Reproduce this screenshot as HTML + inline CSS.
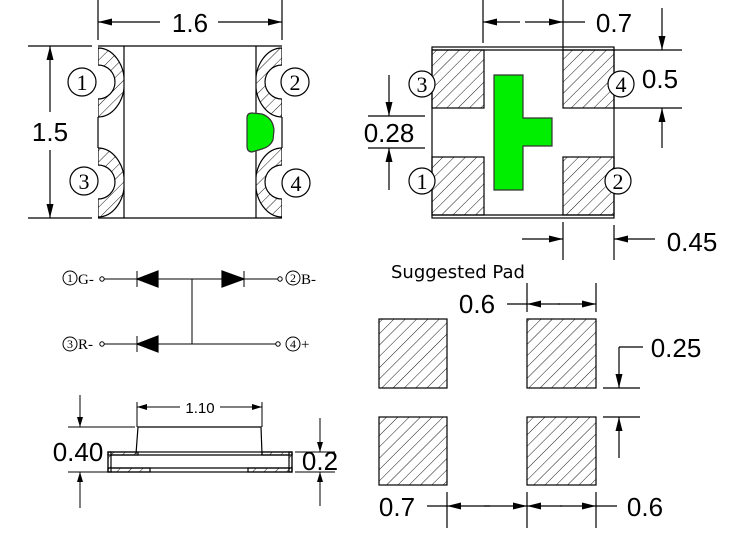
<!DOCTYPE html>
<html><head><meta charset="utf-8"><style>
html,body{margin:0;padding:0;background:#fff;}
svg{display:block;}
text{font-family:"Liberation Sans",sans-serif;fill:#000;}
</style></head><body>
<svg width="736" height="533" viewBox="0 0 736 533" xmlns="http://www.w3.org/2000/svg">
<defs>
<pattern id="h" patternUnits="userSpaceOnUse" width="8" height="8" patternTransform="rotate(45)">
<line x1="0" y1="0" x2="0" y2="8" stroke="#000" stroke-width="0.9"/>
</pattern>
<marker id="a" viewBox="0 0 10 6" refX="10" refY="3" markerWidth="10" markerHeight="6" markerUnits="userSpaceOnUse" orient="auto">
<path d="M0,0 L10,3 L0,6 Z" fill="#000"/>
</marker>
<marker id="b" viewBox="0 0 14 7" refX="14" refY="3.5" markerWidth="14" markerHeight="7" markerUnits="userSpaceOnUse" orient="auto">
<path d="M0,0 L14,3.5 L0,7 Z" fill="#000"/>
</marker>
<clipPath id="cl"><rect x="98" y="40" width="26" height="180"/></clipPath>
<clipPath id="cr"><rect x="256" y="40" width="26" height="180"/></clipPath>
</defs>
<g stroke="#000" fill="none" stroke-width="1.2">
<!-- TOP LEFT VIEW -->
<g clip-path="url(#cl)">
<path d="M98,48 A26,34 0 0 1 98,117 L98,99 A17,17 0 0 0 98,65 Z" fill="url(#h)"/>
<path d="M98,148 A26,34 0 0 1 98,217 L98,199 A17,17 0 0 0 98,165 Z" fill="url(#h)"/>
</g>
<g clip-path="url(#cr)">
<path d="M282,48 A26,34 0 0 0 282,117 L282,99 A17,17 0 0 1 282,65 Z" fill="url(#h)"/>
<path d="M282,148 A26,34 0 0 0 282,217 L282,199 A17,17 0 0 1 282,165 Z" fill="url(#h)"/>
</g>
<line x1="98" y1="46" x2="282" y2="46"/>
<line x1="98" y1="218" x2="282" y2="218"/>
<line x1="124" y1="46" x2="124" y2="218"/>
<line x1="256" y1="46" x2="256" y2="218"/>
<line x1="98" y1="117" x2="98" y2="148"/>
<line x1="282" y1="117" x2="282" y2="148"/>
<path d="M252,113 L262,114 Q273,118 274,130 L273,140 Q270,147 262,149 L252,152 Q247,152 247,146 L247,118 Q247,113 252,113 Z" fill="#00ee00" stroke="#333"/>
<line x1="98" y1="0" x2="98" y2="40"/>
<line x1="282" y1="0" x2="282" y2="40"/>
<line x1="160" y1="22" x2="98" y2="22" marker-end="url(#b)"/>
<line x1="218" y1="22" x2="282" y2="22" marker-end="url(#b)"/>
<line x1="28" y1="46" x2="92" y2="46"/>
<line x1="28" y1="218" x2="92" y2="218"/>
<line x1="50" y1="112" x2="50" y2="46" marker-end="url(#b)"/>
<line x1="50" y1="150" x2="50" y2="218" marker-end="url(#b)"/>
<circle cx="82" cy="82" r="14" fill="#fff"/>
<circle cx="84" cy="181" r="14" fill="#fff"/>
<circle cx="295" cy="82" r="14" fill="#fff"/>
<circle cx="296" cy="183" r="14" fill="#fff"/>

<!-- TOP RIGHT VIEW -->
<rect x="432" y="50" width="52" height="58" fill="url(#h)"/>
<rect x="432" y="157" width="52" height="58" fill="url(#h)"/>
<rect x="563" y="50" width="51" height="58" fill="url(#h)"/>
<rect x="563" y="157" width="51" height="58" fill="url(#h)"/>
<rect x="432" y="47" width="182" height="171"/>
<line x1="432" y1="50" x2="614" y2="50"/>
<line x1="432" y1="215" x2="614" y2="215"/>
<path d="M494,75 H523 V118 H552 V146 H523 V190 H494 Z" fill="#00ee00" stroke="#333"/>
<circle cx="422" cy="84" r="13" fill="#fff"/>
<circle cx="621" cy="84" r="13" fill="#fff"/>
<circle cx="422" cy="181" r="13" fill="#fff"/>
<circle cx="618" cy="181" r="13" fill="#fff"/>
<line x1="483" y1="0" x2="483" y2="43"/>
<line x1="563" y1="0" x2="563" y2="50"/>
<line x1="520" y1="22" x2="483" y2="22" marker-end="url(#b)"/>
<line x1="525" y1="22" x2="563" y2="22" marker-end="url(#b)"/>
<line x1="563" y1="22" x2="585" y2="22"/>
<line x1="614" y1="50" x2="682" y2="50"/>
<line x1="614" y1="108" x2="682" y2="108"/>
<line x1="662" y1="8" x2="662" y2="50" marker-end="url(#b)"/>
<line x1="662" y1="148" x2="662" y2="108" marker-end="url(#b)"/>
<line x1="368" y1="116" x2="425" y2="116"/>
<line x1="368" y1="148" x2="425" y2="148"/>
<line x1="389" y1="75" x2="389" y2="116" marker-end="url(#b)"/>
<line x1="389" y1="190" x2="389" y2="148" marker-end="url(#b)"/>
<line x1="563" y1="222" x2="563" y2="260"/>
<line x1="614" y1="225" x2="614" y2="260"/>
<line x1="522" y1="239" x2="563" y2="239" marker-end="url(#b)"/>
<line x1="655" y1="239" x2="614" y2="239" marker-end="url(#b)"/>

<!-- CIRCUIT -->
<g stroke-width="1">
<line x1="104" y1="279" x2="278" y2="279"/>
<line x1="104" y1="344" x2="278" y2="344"/>
<line x1="192" y1="279" x2="192" y2="344"/>
<circle cx="102" cy="279" r="2.2" fill="#fff"/>
<circle cx="280" cy="279" r="2.2" fill="#fff"/>
<circle cx="102" cy="344" r="2.2" fill="#fff"/>
<circle cx="278" cy="344" r="2.2" fill="#fff"/>
<line x1="137" y1="271" x2="137" y2="287"/>
<line x1="244" y1="271" x2="244" y2="287"/>
<line x1="137" y1="336" x2="137" y2="352"/>
<circle cx="70" cy="278" r="7"/>
<circle cx="70" cy="344" r="7"/>
<circle cx="293" cy="278" r="7"/>
<circle cx="293" cy="344" r="7"/>
</g>
<path d="M137,279 L158,271 L158,287 Z" fill="#000"/>
<path d="M244,279 L222,271 L222,287 Z" fill="#000"/>
<path d="M137,344 L158,336 L158,352 Z" fill="#000"/>

<!-- SIDE VIEW -->
<rect x="108" y="452" width="30" height="3" fill="url(#h)"/>
<rect x="262" y="452" width="30" height="3" fill="url(#h)"/>
<rect x="108" y="468" width="42" height="4" fill="url(#h)"/>
<rect x="248" y="468" width="44" height="4" fill="url(#h)"/>
<rect x="108" y="452" width="3" height="20" fill="url(#h)"/>
<rect x="289" y="452" width="3" height="20" fill="url(#h)"/>
<path d="M136,454 L138,427 H261 L262,454"/>
<rect x="108" y="452" width="184" height="20"/>
<line x1="111" y1="455" x2="289" y2="455"/>
<line x1="111" y1="468" x2="289" y2="468"/>
<line x1="137" y1="402" x2="137" y2="427" stroke-width="1"/>
<line x1="262" y1="402" x2="262" y2="427" stroke-width="1"/>
<line x1="180" y1="407" x2="137" y2="407" stroke-width="1" marker-end="url(#a)"/>
<line x1="220" y1="407" x2="262" y2="407" stroke-width="1" marker-end="url(#a)"/>
<line x1="68" y1="427" x2="135" y2="427" stroke-width="1"/>
<line x1="68" y1="472" x2="108" y2="472" stroke-width="1"/>
<line x1="80" y1="395" x2="80" y2="427" stroke-width="1" marker-end="url(#a)"/>
<line x1="80" y1="508" x2="80" y2="472" stroke-width="1" marker-end="url(#a)"/>
<line x1="295" y1="452" x2="335" y2="452" stroke-width="1"/>
<line x1="295" y1="472" x2="335" y2="472" stroke-width="1"/>
<line x1="320" y1="418" x2="320" y2="452" stroke-width="1" marker-end="url(#a)"/>
<line x1="320" y1="506" x2="320" y2="472" stroke-width="1" marker-end="url(#a)"/>

<!-- PADS -->
<rect x="379" y="319" width="68" height="69" fill="url(#h)"/>
<rect x="527" y="319" width="69" height="69" fill="url(#h)"/>
<rect x="379" y="417" width="68" height="68" fill="url(#h)"/>
<rect x="527" y="417" width="69" height="68" fill="url(#h)"/>
<line x1="527" y1="283" x2="527" y2="312"/>
<line x1="596" y1="283" x2="596" y2="312"/>
<line x1="507" y1="304" x2="527" y2="304"/>
<line x1="560" y1="304" x2="527" y2="304" marker-end="url(#b)"/>
<line x1="558" y1="304" x2="596" y2="304" marker-end="url(#b)"/>
<line x1="603" y1="388" x2="640" y2="388"/>
<line x1="603" y1="417" x2="640" y2="417"/>
<line x1="643" y1="347" x2="619" y2="347"/>
<line x1="619" y1="347" x2="619" y2="388" marker-end="url(#b)"/>
<line x1="619" y1="458" x2="619" y2="417" marker-end="url(#b)"/>
<line x1="447" y1="492" x2="447" y2="528"/>
<line x1="527" y1="492" x2="527" y2="528"/>
<line x1="596" y1="492" x2="596" y2="528"/>
<line x1="427" y1="506" x2="447" y2="506"/>
<line x1="490" y1="506" x2="447" y2="506" marker-end="url(#b)"/>
<line x1="484" y1="506" x2="527" y2="506" marker-end="url(#b)"/>
<line x1="562" y1="506" x2="527" y2="506" marker-end="url(#b)"/>
<line x1="560" y1="506" x2="596" y2="506" marker-end="url(#b)"/>
<line x1="596" y1="506" x2="617" y2="506"/>
</g>

<!-- TEXT -->
<g font-size="26" text-anchor="middle">
<text x="190" y="32">1.6</text>
<text x="50" y="141">1.5</text>
<text x="614" y="32">0.7</text>
<text x="660" y="88">0.5</text>
<text x="389" y="142">0.28</text>
<text x="692" y="251">0.45</text>
<text x="477" y="313">0.6</text>
<text x="676" y="357">0.25</text>
<text x="397" y="516">0.7</text>
<text x="645" y="516">0.6</text>
<text x="78" y="461">0.40</text>
<text x="320" y="470">0.2</text>
</g>
<text x="200" y="413" font-size="15" text-anchor="middle">1.10</text>
<text x="391" y="278" font-size="18" style="font-family:'DejaVu Sans','Liberation Sans',sans-serif">Suggested Pad</text>
<g font-size="22" text-anchor="middle" style="font-family:'Liberation Serif',serif">
<text x="82" y="90" style="font-family:'Liberation Serif',serif">1</text>
<text x="84" y="189" style="font-family:'Liberation Serif',serif">3</text>
<text x="295" y="90" style="font-family:'Liberation Serif',serif">2</text>
<text x="296" y="191" style="font-family:'Liberation Serif',serif">4</text>
<text x="422" y="92" style="font-family:'Liberation Serif',serif">3</text>
<text x="621" y="92" style="font-family:'Liberation Serif',serif">4</text>
<text x="422" y="189" style="font-family:'Liberation Serif',serif">1</text>
<text x="618" y="189" style="font-family:'Liberation Serif',serif">2</text>
</g>
<g font-size="12" text-anchor="middle">
<text x="70" y="282" style="font-family:'Liberation Serif',serif">1</text>
<text x="70" y="348" style="font-family:'Liberation Serif',serif">3</text>
<text x="293" y="282" style="font-family:'Liberation Serif',serif">2</text>
<text x="293" y="348" style="font-family:'Liberation Serif',serif">4</text>
</g>
<g font-size="15">
<text x="78" y="284" style="font-family:'Liberation Serif',serif">G-</text>
<text x="301" y="284" style="font-family:'Liberation Serif',serif">B-</text>
<text x="78" y="349" style="font-family:'Liberation Serif',serif">R-</text>
<text x="301" y="349" style="font-family:'Liberation Serif',serif">+</text>
</g>
</svg>
</body></html>
